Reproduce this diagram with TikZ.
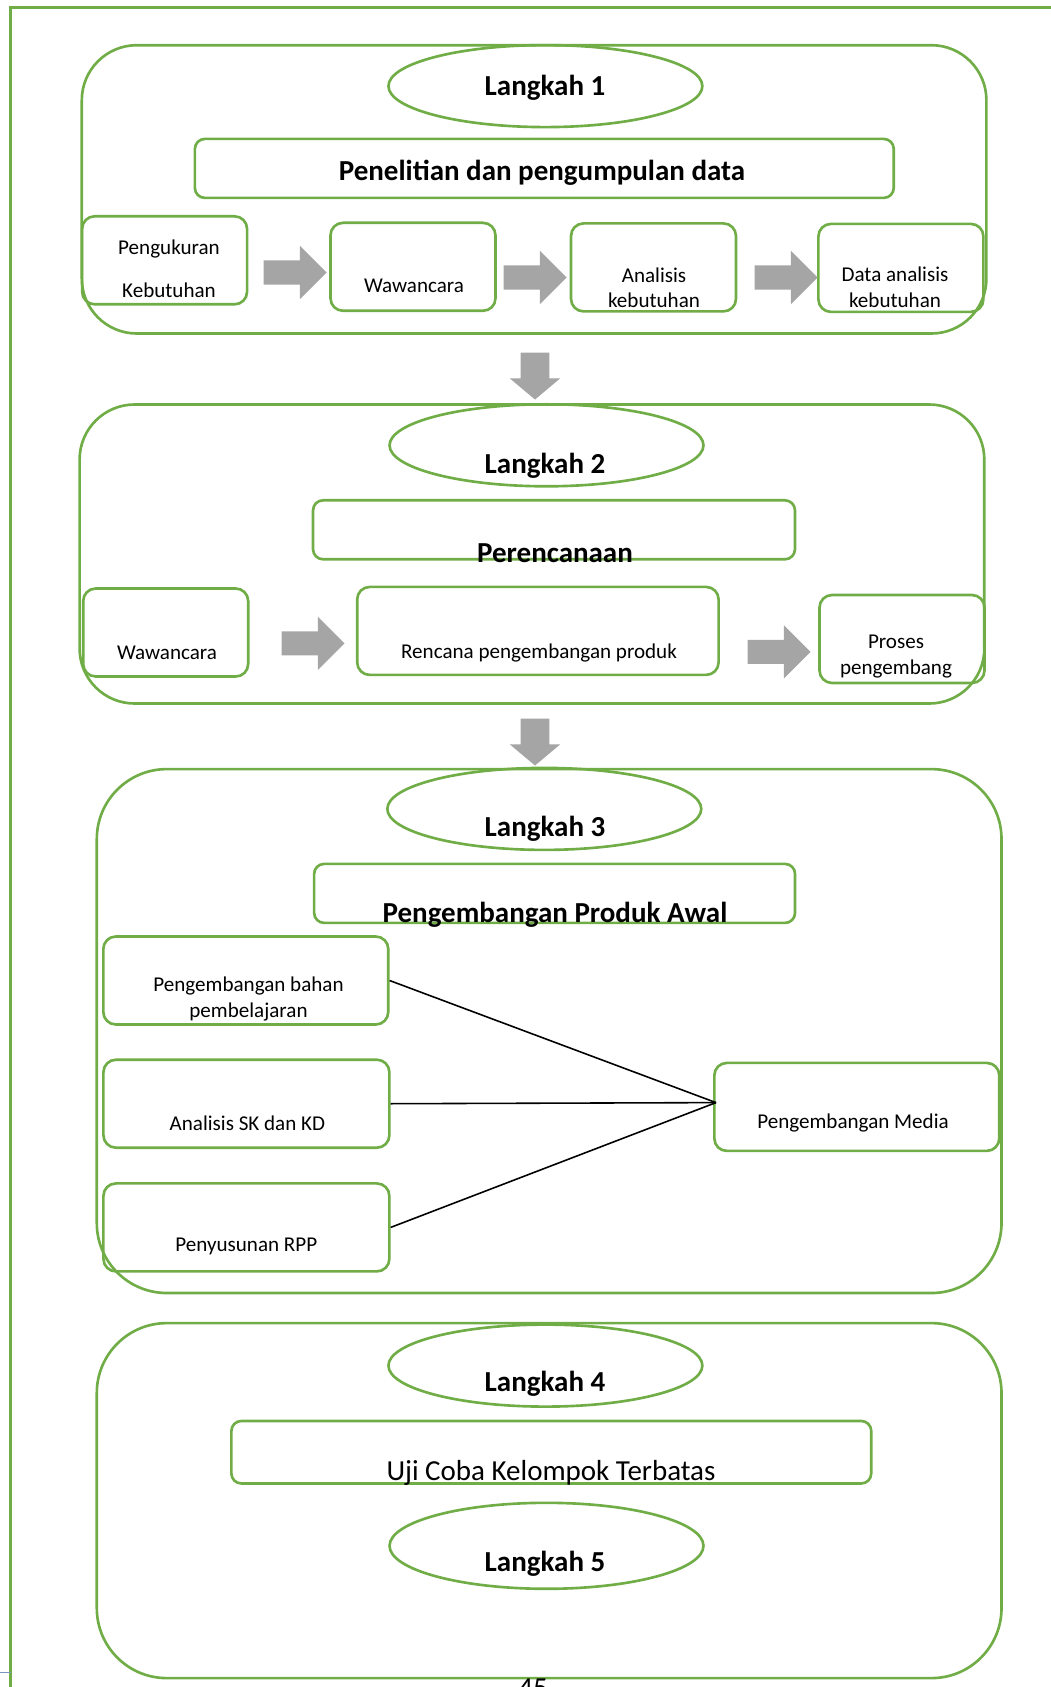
\documentclass[tikz,border=0pt]{standalone}
\usepackage{fontspec}
\setmainfont{Carlito}
\usetikzlibrary{shapes.geometric,shapes.arrows}
\definecolor{hijau}{RGB}{112,173,71}
\definecolor{abu}{RGB}{165,165,165}
\tikzset{
	grup/.style={draw=hijau,line width=1.5pt},
	langkah/.style={draw=hijau,line width=1.5pt,ellipse,inner sep=0pt,minimum width=6.28cm,minimum height=1.64cm},
	judul/.style={draw=hijau,line width=1.5pt,rounded corners=0.2cm,inner sep=0pt,minimum height=1.18cm},
	kotak/.style={draw=hijau,line width=1.5pt,rounded corners=0.25cm,inner sep=0pt,minimum width=3.3cm,minimum height=1.76cm},
	teks/.style={font=\fontsize{12}{14.6}\selectfont,align=center,inner sep=0pt},
	tebal/.style={font=\fontsize{16.5}{20}\selectfont\bfseries,inner sep=0pt},
	biasa/.style={font=\fontsize{16.5}{20}\selectfont,inner sep=0pt},
	panah/.style={single arrow,fill=abu,draw=none,inner sep=0.234cm,minimum height=1.26cm,single arrow head extend=0.29cm},
	panahbawah/.style={panah,shape border rotate=270,inner sep=0.28cm,minimum height=0.94cm,single arrow head extend=0.22cm,single arrow tip angle=100},
	garis/.style={black,line width=0.9pt},
}
\begin{document}
\begin{tikzpicture}[x=0.02cm,y=-0.02cm]
\useasboundingbox (0,0) rectangle (1051,1687);
\draw[hijau,line width=1.2pt] (10.5,1687) -- (10.5,7.5) -- (1051,7.5);
\draw[color={rgb,255:red,120;green,150;blue,190},line width=0.5pt] (0,1672) -- (10.5,1672);

% langkah 1
\draw[grup,rounded corners=1.1cm] (81.8,45.2) rectangle (986.4,333.5);
\node[langkah] (e1) at (545.4,86.1) {};
\node[judul,minimum width=13.98cm] (j1) at (544.3,168.4) {};
\node[kotak] (b1) at (164.6,260.3) {};
\node[kotak] (b2) at (413,266.8) {};
\node[kotak] (b3) at (653.5,267.4) {};
\node[kotak] (b4) at (900.9,267.9) {};
\node[panah] (a1) at (289,272.5) {};
\node[panah] (a2) at (529,277.5) {};
\node[panah] (a3) at (780,277.5) {};
\node[tebal] (l1) at (545,88) {Langkah 1};
\node[tebal] (j1t) at (542,173) {Penelitian dan pengumpulan data};
\node[teks] (t1) at (169,269) {Pengukuran\\[10pt]Kebutuhan};
\node[teks] (t2) at (414,286) {Wawancara};
\node[teks] (t3) at (654,287.6) {Analisis\\kebutuhan};
\node[teks] (t4) at (895,287) {Data analisis\\kebutuhan};

\node[panahbawah] (d1) at (535,370) {};

% langkah 2
\draw[grup,rounded corners=1.1cm] (79.6,404.5) rectangle (984.3,703.5);
\node[langkah] (e2) at (546.5,445.3) {};
\node[judul,minimum width=9.64cm] (j2) at (554,529.8) {};
\node[kotak] (w) at (165.7,632.5) {};
\node[kotak,minimum width=7.23cm] (r) at (537.9,630.9) {};
\node[kotak] (p) at (902,639) {};
\node[panah] (a4) at (307,643.3) {};
\node[panah] (a5) at (773,651.9) {};
\node[tebal] (l2) at (545,465.6) {Langkah 2};
\node[tebal] (j2t) at (555,553) {Perencanaan};
\node[teks] (t5) at (167,653) {Wawancara};
\node[teks] (t6) at (539,653) {Rencana pengembangan produk};
\node[teks] (t7) at (896,656.6) {Proses\\pengembang};

\node[panahbawah] (d2) at (535,736) {};

% langkah 3
\draw[grup,rounded corners=1.4cm] (96.8,769.1) rectangle (1001.5,1293);
\node[langkah] (e3) at (544.3,808.9) {};
\node[judul,minimum width=9.62cm] (j3) at (554.6,893.4) {};
\node[kotak,minimum width=5.7cm] (pb) at (245.8,980.5) {};
\node[kotak,minimum width=5.72cm] (as) at (246.4,1103.7) {};
\node[kotak,minimum width=5.72cm] (pr) at (246.4,1227.4) {};
\node[kotak,minimum width=5.7cm] (pm) at (856.8,1106.9) {};
\coordinate (pusat) at (716,1102.6);
\draw[garis] (pb.east) -- (pusat);
\draw[garis] (as.east) -- (pusat);
\draw[garis] (pr.east) -- (pusat);
\node[tebal] (l3) at (545,829) {Langkah 3};
\node[tebal] (j3t) at (555,915) {Pengembangan Produk Awal};
\node[teks] (t8) at (248.5,999) {Pengembangan bahan\\pembelajaran};
\node[teks] (t9) at (247.4,1123) {Analisis SK dan KD};
\node[teks] (t10) at (246.3,1246.7) {Penyusunan RPP};
\node[teks] (t11) at (853,1123) {Pengembangan Media};

% langkah 4 dan 5
\draw[grup,rounded corners=1.4cm] (96.8,1323.1) rectangle (1001.5,1678.1);
\node[langkah] (e4) at (545.4,1365.6) {};
\node[judul,minimum width=12.8cm,minimum height=1.25cm] (j4) at (551.3,1452.2) {};
\node[langkah,minimum height=1.72cm] (e5) at (546.5,1545.8) {};
\node[tebal] (l4) at (545,1384) {Langkah 4};
\node[biasa] (j4t) at (551,1472.5) {Uji Coba Kelompok Terbatas};
\node[tebal] (l5) at (545,1564) {Langkah 5};

\node[biasa,anchor=north] (hal) at (533,1679) {45};
\end{tikzpicture}
\end{document}
